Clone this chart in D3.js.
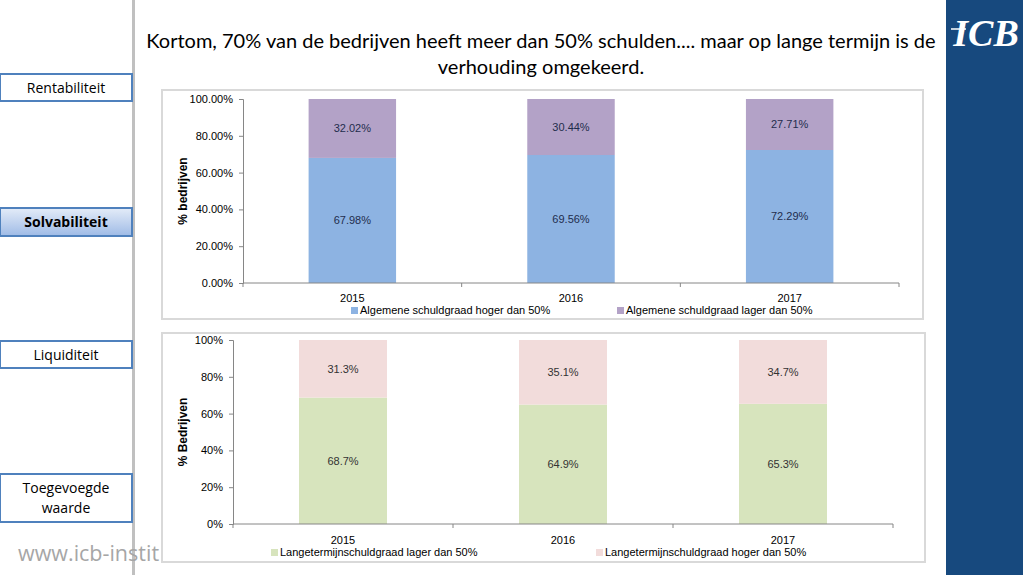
<!DOCTYPE html>
<html><head><meta charset="utf-8">
<script src="https://cdn.jsdelivr.net/npm/d3@7"></script>
<style>
html,body{margin:0;padding:0;background:#fff;}
svg{display:block;font-family:"Liberation Sans",Arial,sans-serif;}
</style></head>
<body>
<svg id="c" width="1023" height="575"></svg>
<script>
const years = ["2015", "2016", "2017"];
const topSeriesNames = ["Algemene schuldgraad hoger dan 50%", "Algemene schuldgraad lager dan 50%"];
const topHoger = [67.98, 69.56, 72.29];
const topLager = [32.02, 30.44, 27.71];
const topTicks = [0, 20, 40, 60, 80, 100];
const botSeriesNames = ["Langetermijnschuldgraad lager dan 50%", "Langetermijnschuldgraad hoger dan 50%"];
const botLager = [68.7, 64.9, 65.3];
const botHoger = [31.3, 35.1, 34.7];
const botTicks = [0, 20, 40, 60, 80, 100];
const navItems = ["Rentabiliteit", "Solvabiliteit", "Liquiditeit", "Toegevoegde waarde"];
const titleLines = ["Kortom, 70% van de bedrijven heeft meer dan 50% schulden.... maar op lange termijn is de", "verhouding omgekeerd."];

const svg = d3.select("#c");
const defs = svg.append("defs");
const g = defs.append("linearGradient").attr("id","solv").attr("x1",0).attr("y1",0).attr("x2",0).attr("y2",1);
g.append("stop").attr("offset","0%").attr("stop-color","#e4ecf8");
g.append("stop").attr("offset","100%").attr("stop-color","#9fbbe6");

// right blue panel
svg.append("rect").attr("x",946).attr("y",0).attr("width",77).attr("height",575).attr("fill","#17497e");
svg.append("text").attr("x",986).attr("y",46).attr("text-anchor","middle")
  .attr("font-family","Liberation Serif, serif").attr("font-style","italic").attr("font-weight","bold").attr("font-size",38)
  .attr("fill","#fff").text("ICB");
svg.append("line").attr("x1",951).attr("x2",966).attr("y1",29).attr("y2",29).attr("stroke","#fff").attr("stroke-width",1.5);

// left vertical line
svg.append("rect").attr("x",132).attr("y",0).attr("width",3).attr("height",575).attr("fill","#c0c0c0");

// website text
svg.append("text").attr("x",18).attr("y",561).attr("font-family","Open Sans, sans-serif").attr("font-size",21.5)
  .attr("fill","#a6a6a6").text("www.icb-instit");

// nav boxes
const navBoxes = [
  {y:74,h:27,lines:["Rentabiliteit"]},
  {y:208,h:28,lines:["Solvabiliteit"],active:true},
  {y:341,h:27,lines:["Liquiditeit"]},
  {y:474,h:48,lines:["Toegevoegde","waarde"]}
];
navBoxes.forEach((b,i)=>{
  svg.append("rect").attr("x",0).attr("y",b.y).attr("width",132).attr("height",b.h)
    .attr("fill", b.active ? "url(#solv)" : "#fff").attr("stroke","#4f81bd").attr("stroke-width",2);
  b.lines.forEach((l,j)=>{
    svg.append("text").attr("x",66).attr("y",b.y + b.h/2 + 5 + (j - (b.lines.length-1)/2)*20)
      .attr("text-anchor","middle").attr("font-family","Open Sans, sans-serif").attr("font-size",14)
      .attr("font-weight", b.active ? "bold":"normal").attr("fill","#000").text(l);
  });
});

// title
titleLines.forEach((t,i)=>{
  svg.append("text").attr("x",541).attr("y",48 + i*25.5).attr("text-anchor","middle")
    .attr("font-family","Lato, sans-serif").attr("font-size",20).attr("fill","#000").text(t);
});

function drawChart(opt){
  svg.append("rect").attr("x",opt.px).attr("y",opt.py).attr("width",opt.pw).attr("height",opt.ph)
    .attr("fill","#fff").attr("stroke","#d9d9d9").attr("stroke-width",2);
  const x = d3.scaleBand().domain(years).range([opt.x0, opt.x1]).paddingInner(0.6).paddingOuter(0.3);
  const y = d3.scaleLinear().domain([0,100]).range([opt.y0, opt.y1]);
  const gg = svg.append("g");
  const stacked = years.map((yr,i)=>({yr, a:opt.a[i], b:opt.b[i]}));
  stacked.forEach(d=>{
    gg.append("rect").attr("x",x(d.yr)).attr("width",x.bandwidth()).attr("y",y(d.a)).attr("height",y(0)-y(d.a)).attr("fill",opt.colA);
    gg.append("rect").attr("x",x(d.yr)).attr("width",x.bandwidth()).attr("y",y(d.a+d.b)).attr("height",y(d.a)-y(d.a+d.b)).attr("fill",opt.colB);
    gg.append("text").attr("x",x(d.yr)+x.bandwidth()/2).attr("y",y(d.a/2)+4).attr("text-anchor","middle")
      .attr("font-size",11).attr("fill",opt.lblCol).text(opt.fmtLbl(d.a));
    gg.append("text").attr("x",x(d.yr)+x.bandwidth()/2).attr("y",y(d.a+d.b/2)+4).attr("text-anchor","middle")
      .attr("font-size",11).attr("fill",opt.lblCol).text(opt.fmtLbl(d.b));
  });
  const ya = gg.append("g").attr("transform",`translate(${opt.x0},0)`)
    .call(d3.axisLeft(y).tickValues(opt.ticks).tickSize(4).tickFormat(opt.fmtTick));
  ya.select(".domain").attr("stroke","#868686");
  ya.selectAll(".tick line").attr("stroke","#868686");
  ya.selectAll("text").attr("font-size",11).attr("fill","#000").attr("font-family","Liberation Sans, Arial, sans-serif").attr("dx",-3);
  const xa = gg.append("g").attr("transform",`translate(0,${opt.y0})`);
  xa.append("line").attr("x1",opt.x0).attr("x2",opt.x1).attr("stroke","#868686");
  d3.range(4).forEach(k=>{
    const bx = opt.x0 + k*(opt.x1-opt.x0)/3;
    xa.append("line").attr("x1",bx).attr("x2",bx).attr("y1",0).attr("y2",4).attr("stroke","#868686");
  });
  years.forEach(yr=>{
    xa.append("text").attr("x",x(yr)+x.bandwidth()/2).attr("y",opt.xlabY - opt.y0).attr("text-anchor","middle")
      .attr("font-size",11).attr("fill","#000").text(yr);
  });
  gg.append("text").attr("transform",`translate(${opt.ytX},${(opt.y0+opt.y1)/2}) rotate(-90)`)
    .attr("text-anchor","middle").attr("font-size",12).attr("font-weight","bold").attr("fill","#000").text(opt.ytitle);
  opt.legend.forEach((l,i)=>{
    gg.append("rect").attr("x",l.x).attr("y",opt.legY-7).attr("width",7).attr("height",7).attr("fill",i===0?opt.colA:opt.colB);
    gg.append("text").attr("x",l.x+9).attr("y",opt.legY).attr("font-size",11).attr("fill","#000").text(opt.names[i]);
  });
}

drawChart({
  px:162, py:90, pw:761, ph:229,
  x0:243, x1:899, y0:283, y1:99,
  a:topHoger, b:topLager, colA:"#8db3e2", colB:"#b3a2c7", lblCol:"#1f2d4d",
  ticks:topTicks, fmtTick:d=>d.toFixed(2)+"%", fmtLbl:d=>d.toFixed(2)+"%",
  xlabY:302, ytX:187, ytitle:"% bedrijven",
  legY:314, legend:[{x:351},{x:617}], names:topSeriesNames
});
drawChart({
  px:162, py:333, pw:763, ph:229,
  x0:233, x1:893, y0:524, y1:340,
  a:botLager, b:botHoger, colA:"#d7e4bd", colB:"#f2dcdb", lblCol:"#333",
  ticks:botTicks, fmtTick:d=>d+"%", fmtLbl:d=>d.toFixed(1)+"%",
  xlabY:544, ytX:187, ytitle:"% Bedrijven",
  legY:556, legend:[{x:271},{x:596}], names:botSeriesNames
});
</script>
</body></html>
